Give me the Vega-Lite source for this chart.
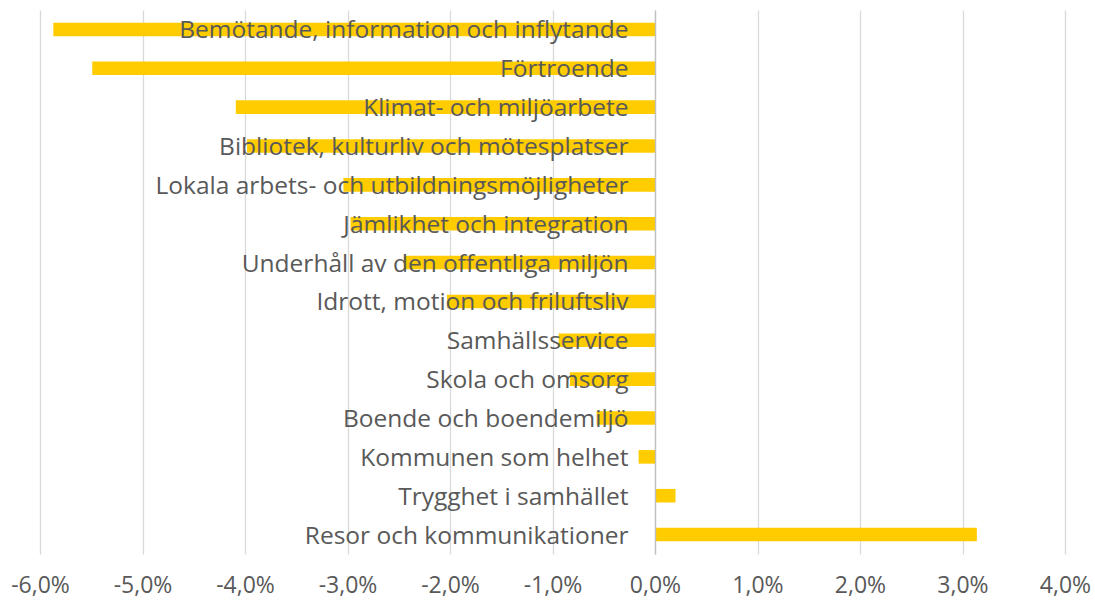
{
  "$schema": "https://vega.github.io/schema/vega-lite/v6.json",
  "autosize": {"type": "none"},
  "width": 1025,
  "height": 544,
  "padding": {"left": 40, "top": 10, "right": 30, "bottom": 48},
  "background": "white",
  "config": {"view": {"stroke": null}, "font": "Open Sans"},
  "data": {
    "values": [
      {"kategori": "Bemötande, information och inflytande", "andel": -5.87},
      {"kategori": "Förtroende", "andel": -5.49},
      {"kategori": "Klimat- och miljöarbete", "andel": -4.09},
      {"kategori": "Bibliotek, kulturliv och mötesplatser", "andel": -3.98},
      {"kategori": "Lokala arbets- och utbildningsmöjligheter", "andel": -3.04},
      {"kategori": "Jämlikhet och integration", "andel": -2.97},
      {"kategori": "Underhåll av den offentliga miljön", "andel": -2.45},
      {"kategori": "Idrott, motion och friluftsliv", "andel": -2.03},
      {"kategori": "Samhällsservice", "andel": -0.94},
      {"kategori": "Skola och omsorg", "andel": -0.83},
      {"kategori": "Boende och boendemiljö", "andel": -0.57},
      {"kategori": "Kommunen som helhet", "andel": -0.16},
      {"kategori": "Trygghet i samhället", "andel": 0.2},
      {"kategori": "Resor och kommunikationer", "andel": 3.14}
    ]
  },
  "mark": {"type": "bar", "color": "#FFCC00"},
  "encoding": {
    "y": {
      "field": "kategori",
      "type": "nominal",
      "sort": null,
      "scale": {"paddingInner": 0.65, "paddingOuter": 0.325},
      "axis": {
        "title": null,
        "offset": -615,
        "ticks": false,
        "domain": true,
        "domainColor": "#bfbfbf",
        "domainWidth": 1.3,
        "grid": false,
        "labelPadding": 27,
        "labelOffset": 2,
        "labelLimit": 0,
        "labelFontSize": 24.5,
        "labelColor": "#595959",
        "zindex": 1
      }
    },
    "x": {
      "field": "andel",
      "type": "quantitative",
      "scale": {"domain": [-6, 4], "nice": false, "zero": false},
      "axis": {
        "title": null,
        "values": [-6, -5, -4, -3, -2, -1, 0, 1, 2, 3, 4],
        "labelExpr": "replace(replace(format(datum.value, '.1f'), '.', ','), '−', '-') + '%'",
        "ticks": false,
        "domain": false,
        "grid": true,
        "gridColor": "#d9d9d9",
        "gridWidth": 1.3,
        "labelPadding": 20,
        "labelFlush": false,
        "labelFontSize": 23,
        "labelColor": "#595959",
        "labelBaseline": "top",
        "zindex": 0
      }
    }
  }
}
